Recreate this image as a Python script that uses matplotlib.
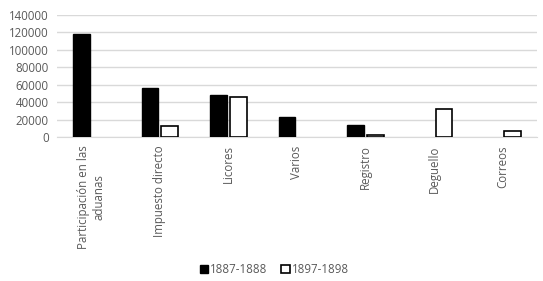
import numpy as np
import matplotlib.pyplot as plt

categories = ["Participación en las\naduanas", "Impuesto directo", "Licores", "Varios",
              "Registro", "Deguello", "Correos"]
v1887 = [117900, 55700, 48100, 22900, 13400, np.nan, np.nan]
v1897 = [np.nan, 12200, 45400, np.nan, 2300, 32000, 6900]

plt.rcParams["font.family"] = ["Open Sans", "DejaVu Sans"]
grey = "#595959"

fig = plt.figure(figsize=(5.43, 2.81), dpi=100)
ax = fig.add_axes([57 / 543, 1 - 137 / 281, 480 / 543, (137 - 14.7) / 281])

x = np.arange(len(categories))
w = 0.243
off = w / 2 + 0.022
ax.bar(x - off, v1887, w, color="black", edgecolor="black", linewidth=1, label="1887-1888", zorder=3)
ax.bar(x + off, v1897, w, color="white", edgecolor="black", linewidth=1.2, label="1897-1898", zorder=3)

ax.set_xlim(-0.5, len(categories) - 0.5)
ax.set_ylim(0, 140000)
ax.set_yticks(np.arange(0, 140001, 20000))
ax.set_yticklabels([str(v) for v in range(0, 140001, 20000)])
ax.grid(axis="y", color="#d9d9d9", linewidth=1, zorder=0)
for s in ["top", "right", "left"]:
    ax.spines[s].set_visible(False)
ax.spines["bottom"].set_color("#d9d9d9")
ax.tick_params(axis="y", length=0, pad=6, labelsize=8.3, labelcolor=grey)
ax.tick_params(axis="x", length=0, pad=6)
ax.set_xticks(x)
ax.set_xticklabels(categories, rotation=90, fontsize=8.3, color=grey,
                   ha="center", va="top", multialignment="center")

fig.legend(loc="lower center", bbox_to_anchor=(0.505, -0.02), ncol=2, frameon=False,
           fontsize=8.3, labelcolor=grey, handlelength=0.75, handleheight=0.75,
           handletextpad=0.15, columnspacing=1.2)

fig.savefig("out.png", dpi=100)
